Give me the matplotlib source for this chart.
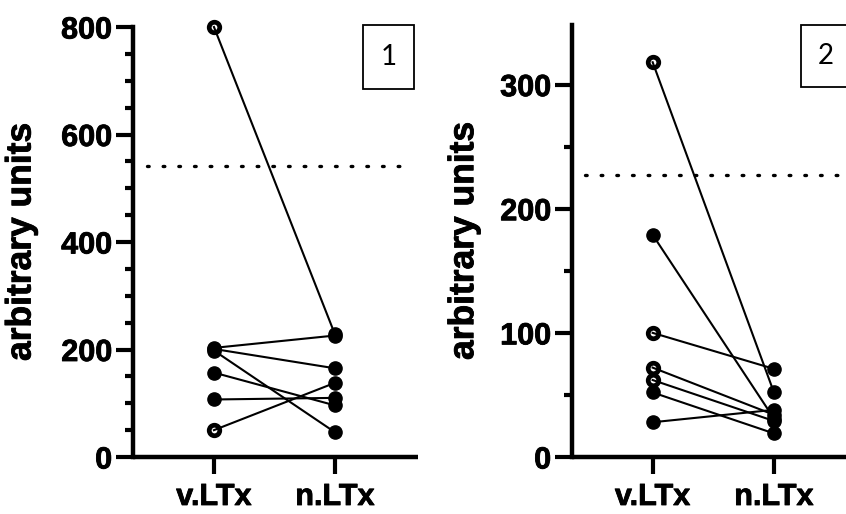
import matplotlib.pyplot as plt
import matplotlib.patheffects as pe
from matplotlib.patches import Rectangle
from matplotlib.ticker import MultipleLocator

plt.rcParams['font.family'] = ['Liberation Sans', 'DejaVu Sans']

groups = ["v.LTx", "n.LTx"]

# panel 1: paired values per subject
p1_vltx = [800, 203, 201, 198, 157, 107, 50]
p1_nltx = [228, 226, 165, 46, 96, 110, 138]
p1_open = [True, False, False, False, False, False, True]
p1_cutoff = 541

# panel 2
p2_vltx = [318, 179, 100, 72, 62, 52, 28]
p2_nltx = [52, 31, 71, 34, 29, 19, 38]
p2_open = [True, False, True, True, True, False, False]
p2_cutoff = 227

W, H = 846, 514
fig = plt.figure(figsize=(W / 100, H / 100), dpi=100)
heavy = [pe.withStroke(linewidth=0.6, foreground="black")]


def panel(rect, v, n, opn, cutoff, ymax, major, xlim, cut_x, tag, box):
    ax = fig.add_axes(rect)
    for a, b, o in zip(v, n, opn):
        ax.plot([0, 1], [a, b], color="black", lw=1.5, zorder=3, clip_on=False)
        ax.plot(1, b, "o", ms=9.5, mfc="black", mec="black", zorder=4, clip_on=False)
        if o:
            ax.plot(0, a, "o", ms=7.6, mfc="white", mec="black", mew=3.4,
                    zorder=2, clip_on=False)
        else:
            ax.plot(0, a, "o", ms=9.5, mfc="black", mec="black", zorder=4,
                    clip_on=False)
    ax.plot(cut_x, [cutoff, cutoff], color="black", lw=2.4,
            ls=(0, (0.5, 4.2)), dash_capstyle="round", zorder=1, clip_on=False)
    ax.set_xlim(*xlim)
    ax.set_ylim(0, ymax)
    ax.set_xticks([0, 1])
    ax.set_xticklabels(groups)
    ax.yaxis.set_major_locator(MultipleLocator(major))
    ax.yaxis.set_minor_locator(MultipleLocator(50))
    for lab in ax.get_yticklabels() + ax.get_xticklabels():
        lab.set_fontsize(22)
        lab.set_fontweight("bold")
        lab.set_path_effects(heavy)
    ax.tick_params(axis="y", which="major", length=12, width=3, pad=3)
    ax.tick_params(axis="y", which="minor", length=6, width=3)
    ax.tick_params(axis="x", which="major", length=12, width=3, pad=6)
    for s in ("top", "right"):
        ax.spines[s].set_visible(False)
    for s in ("left", "bottom"):
        ax.spines[s].set_linewidth(3.2)
    ax.spines["bottom"].set_capstyle("butt")
    ax.set_ylabel("arbitrary units", fontsize=25.5, fontweight="bold",
                  path_effects=heavy)
    ax.yaxis.set_label_coords(-0.335, 0.5)

    # numbered panel tag
    x0, y0, x1, y1 = box
    fig.patches.append(Rectangle((x0 / W, 1 - y1 / H), (x1 - x0) / W, (y1 - y0) / H,
                                 transform=fig.transFigure, fc="white",
                                 ec="black", lw=1.3, zorder=5))
    fig.text((x0 + x1) / 2 / W, 1 - (y0 + y1) / 2 / H, tag, fontsize=20,
             family=["Lato", "DejaVu Sans"], ha="center", va="center", zorder=6)
    return ax


ax1 = panel([133 / W, 1 - 457 / H, 285 / W, 430 / H],
            p1_vltx, p1_nltx, p1_open, p1_cutoff, 800, 200,
            (-0.669, 1.686), [-0.55, 1.64], "1", (363, 25, 414, 89))
ax2 = panel([572 / W, 1 - 457 / H, 274 / W, 432 / H],
            p2_vltx, p2_nltx, p2_open, p2_cutoff, 348, 100,
            (-0.665, 1.594), [-0.56, 1.6], "2", (801, 25, 850, 87))

fig.savefig("out.png", dpi=100)
